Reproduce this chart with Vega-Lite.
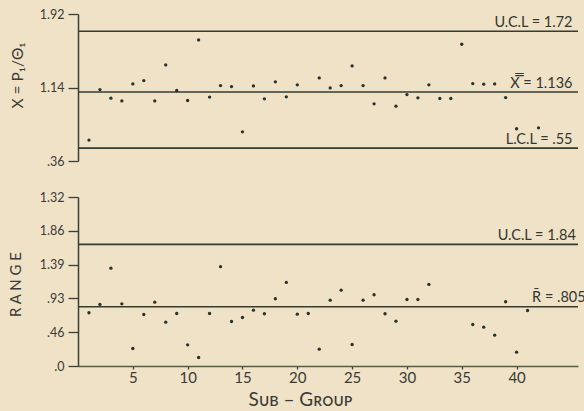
{
  "$schema": "https://vega.github.io/schema/vega-lite/v6.json",
  "background": "#efe2c6",
  "padding": {"left": 8, "top": 8, "right": 0, "bottom": 5},
  "spacing": 36,
  "bounds": "flush",
  "config": {
    "view": {"stroke": null},
    "font": "Lato",
    "axis": {"grid": false, "labelOverlap": false, "domainColor": "#3a3f38", "domainWidth": 1.5, "tickColor": "#3a3f38", "tickWidth": 1.3, "labelColor": "#3a3a36", "titleColor": "#3a3a36", "titleFontWeight": "normal"}
  },
  "datasets": {
    "xbar": [
      {"subgroup": 1, "x": 0.582}, {"subgroup": 2, "x": 1.118}, {"subgroup": 3, "x": 1.027}, {"subgroup": 4, "x": 0.998},
      {"subgroup": 5, "x": 1.178}, {"subgroup": 6, "x": 1.213}, {"subgroup": 7, "x": 0.998}, {"subgroup": 8, "x": 1.38},
      {"subgroup": 9, "x": 1.108}, {"subgroup": 10, "x": 1.002}, {"subgroup": 11, "x": 1.645}, {"subgroup": 12, "x": 1.038},
      {"subgroup": 13, "x": 1.16}, {"subgroup": 14, "x": 1.15}, {"subgroup": 15, "x": 0.67}, {"subgroup": 16, "x": 1.157},
      {"subgroup": 17, "x": 1.02}, {"subgroup": 18, "x": 1.2}, {"subgroup": 19, "x": 1.041}, {"subgroup": 20, "x": 1.168},
      {"subgroup": 22, "x": 1.242}, {"subgroup": 23, "x": 1.136}, {"subgroup": 24, "x": 1.16}, {"subgroup": 25, "x": 1.369},
      {"subgroup": 26, "x": 1.16}, {"subgroup": 27, "x": 0.967}, {"subgroup": 28, "x": 1.242}, {"subgroup": 29, "x": 0.942},
      {"subgroup": 30, "x": 1.065}, {"subgroup": 31, "x": 1.03}, {"subgroup": 32, "x": 1.168}, {"subgroup": 33, "x": 1.023},
      {"subgroup": 34, "x": 1.023}, {"subgroup": 35, "x": 1.599}, {"subgroup": 36, "x": 1.182}, {"subgroup": 37, "x": 1.175},
      {"subgroup": 38, "x": 1.178}, {"subgroup": 39, "x": 1.033}, {"subgroup": 40, "x": 0.702}, {"subgroup": 42, "x": 0.712}
    ],
    "range": [
      {"subgroup": 1, "r": 0.731}, {"subgroup": 2, "r": 0.845}, {"subgroup": 3, "r": 1.343}, {"subgroup": 4, "r": 0.854},
      {"subgroup": 5, "r": 0.24}, {"subgroup": 6, "r": 0.707}, {"subgroup": 7, "r": 0.876}, {"subgroup": 8, "r": 0.602},
      {"subgroup": 9, "r": 0.721}, {"subgroup": 10, "r": 0.291}, {"subgroup": 11, "r": 0.117}, {"subgroup": 12, "r": 0.721},
      {"subgroup": 13, "r": 1.363}, {"subgroup": 14, "r": 0.611}, {"subgroup": 15, "r": 0.666}, {"subgroup": 16, "r": 0.766},
      {"subgroup": 17, "r": 0.717}, {"subgroup": 18, "r": 0.923}, {"subgroup": 19, "r": 1.147}, {"subgroup": 20, "r": 0.712},
      {"subgroup": 21, "r": 0.721}, {"subgroup": 22, "r": 0.231}, {"subgroup": 23, "r": 0.904}, {"subgroup": 24, "r": 1.041},
      {"subgroup": 25, "r": 0.295}, {"subgroup": 26, "r": 0.904}, {"subgroup": 27, "r": 0.978}, {"subgroup": 28, "r": 0.717},
      {"subgroup": 29, "r": 0.615}, {"subgroup": 30, "r": 0.913}, {"subgroup": 31, "r": 0.913}, {"subgroup": 32, "r": 1.12},
      {"subgroup": 36, "r": 0.57}, {"subgroup": 37, "r": 0.533}, {"subgroup": 38, "r": 0.423}, {"subgroup": 39, "r": 0.882},
      {"subgroup": 40, "r": 0.19}, {"subgroup": 41, "r": 0.762}
    ],
    "xlimits": [
      {"label": "U.C.L = 1.72", "value": 1.737},
      {"label": "X̿ = 1.136", "value": 1.092},
      {"label": "L.C.L =  .55", "value": 0.497}
    ],
    "rlimits": [
      {"label": "U.C.L = 1.84", "value": 1.669},
      {"label": "R̄ = .805", "value": 0.813}
    ]
  },
  "vconcat": [
    {
      "width": 500,
      "height": 147,
      "layer": [
        {
          "data": {"name": "xlimits"},
          "mark": {"type": "rule", "color": "#323d33", "strokeWidth": 1.6},
          "encoding": {"y": {"field": "value", "type": "quantitative", "scale": {"domain": [0.36, 1.92], "nice": false, "zero": false},
            "axis": {"values": [0.36, 1.14, 1.92], "tickCount": 10, "labelExpr": "datum.value < 0.5 ? '.36' : datum.value < 1.5 ? '1.14' : '1.92'",
                "labelOverlap": false, "tickSize": 10, "labelPadding": 4, "labelFontSize": 12.5, "title": "X = P₁/Θ₁", "titleFontSize": 15.5,
                "titleX": -61, "titleY": 61, "titleBaseline": "middle", "titleAngle": -90}}}
        },
        {
          "data": {"name": "xbar"},
          "mark": {"type": "circle", "size": 11, "color": "#2c302b", "opacity": 1},
          "encoding": {
            "x": {"field": "subgroup", "type": "quantitative", "scale": {"domain": [0, 45.6], "nice": false}, "axis": null},
            "y": {"field": "x", "type": "quantitative"}
          }
        },
        {
          "data": {"name": "xlimits"},
          "mark": {"type": "text", "align": "right", "baseline": "alphabetic", "dy": -4, "fontSize": 14.5, "color": "#333631"},
          "encoding": {"x": {"datum": 45.1}, "y": {"field": "value", "type": "quantitative"}, "text": {"field": "label"}}
        }
      ]
    },
    {
      "width": 500,
      "height": 169,
      "layer": [
        {
          "data": {"name": "rlimits"},
          "mark": {"type": "rule", "color": "#323d33", "strokeWidth": 1.6},
          "encoding": {"y": {"field": "value", "type": "quantitative", "scale": {"domain": [0, 2.32], "nice": false},
            "axis": {"values": [0, 0.464, 0.928, 1.392, 1.856, 2.32], "tickCount": 10,
                "labelExpr": "datum.value < 0.1 ? '.0' : datum.value < 0.5 ? '.46' : datum.value < 1 ? '.93' : datum.value < 1.5 ? '1.39' : datum.value < 2 ? '1.86' : '1.32'",
                "labelOverlap": false, "tickSize": 10, "labelPadding": 4, "labelFontSize": 12.5, "title": "R A N G E", "titleFontSize": 15,
                "titleX": -63, "titleY": 87, "titleBaseline": "middle", "titleAngle": -90}}}
        },
        {
          "data": {"name": "range"},
          "mark": {"type": "circle", "size": 11, "color": "#2c302b", "opacity": 1},
          "encoding": {
            "x": {"field": "subgroup", "type": "quantitative", "scale": {"domain": [0, 45.6], "nice": false},
              "axis": {"values": [5, 10, 15, 20, 25, 30, 35, 40], "tickCount": 20, "tickSize": 3, "labelPadding": 1, "labelFontSize": 15,
                "domainColor": "#4f6046", "title": "Sᴜʙ – Gʀᴏᴜᴘ", "titleFontSize": 19, "titleX": 222, "titleY": 39,
                "titleBaseline": "alphabetic"}},
            "y": {"field": "r", "type": "quantitative"}
          }
        },
        {
          "data": {"name": "rlimits"},
          "transform": [{"filter": "datum.value > 1"}],
          "mark": {"type": "text", "align": "right", "baseline": "alphabetic", "dy": -4, "fontSize": 14.5, "color": "#333631"},
          "encoding": {"x": {"datum": 45.4}, "y": {"field": "value", "type": "quantitative"}, "text": {"field": "label"}}
        },
        {
          "data": {"name": "rlimits"},
          "transform": [{"filter": "datum.value < 1"}],
          "mark": {"type": "text", "align": "right", "baseline": "alphabetic", "dy": -5, "fontSize": 14.5, "color": "#333631"},
          "encoding": {"x": {"datum": 46.3}, "y": {"field": "value", "type": "quantitative"}, "text": {"field": "label"}}
        }
      ]
    }
  ]
}
